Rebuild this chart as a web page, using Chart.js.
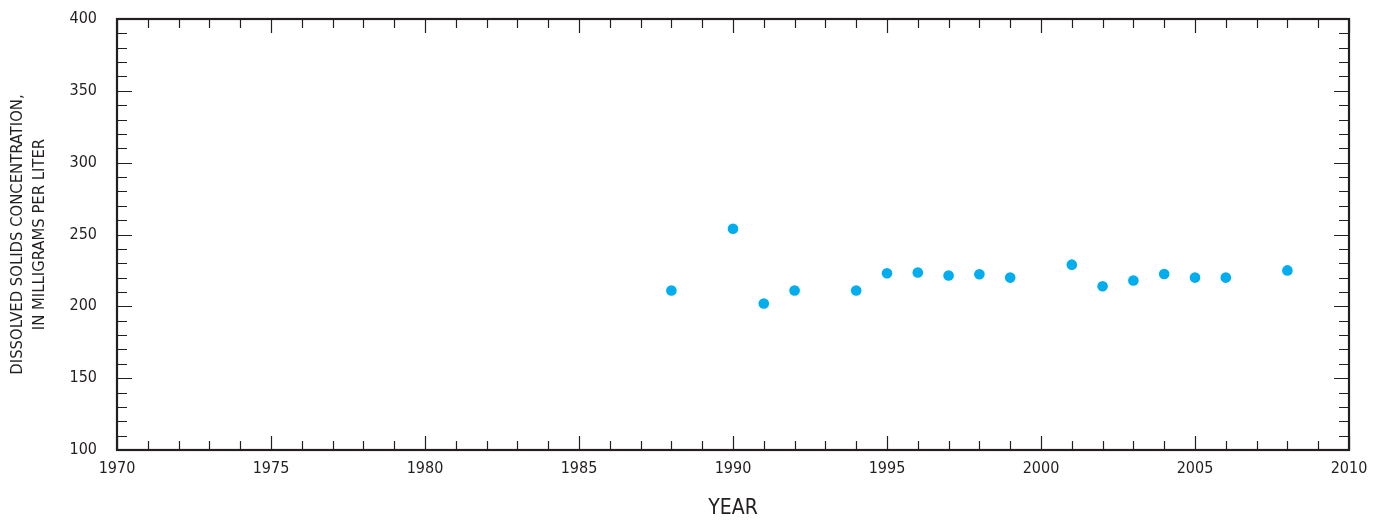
<!DOCTYPE html>
<html>
<head>
<meta charset="utf-8">
<script src="https://cdn.jsdelivr.net/npm/chart.js@4/dist/chart.umd.min.js"></script>
<style>
  html, body { margin: 0; padding: 0; background: #fff; }
  #wrap { width: 1381px; height: 521px; }
</style>
</head>
<body>
<div id="wrap"><canvas id="grafico"></canvas></div>
<script>
// dados
const anos = [1988, 1990, 1991, 1992, 1994, 1995, 1996, 1997, 1998, 1999, 2001, 2002, 2003, 2004, 2005, 2006, 2008];
const solidos = [211, 254, 202, 211, 211, 223, 223.5, 221.5, 222.3, 220, 229, 214, 218, 222.5, 220, 220, 225];
const tituloY = ['DISSOLVED SOLIDS CONCENTRATION,', 'IN MILLIGRAMS PER LITER'];
const tituloX = 'YEAR';

const corEixo = '#231f20';
const fonte = "'Liberation Sans Narrow', 'DejaVu Sans Condensed', sans-serif";

// marcas internas (maiores e menores) nos quatro lados
const marcasInternas = {
    id: 'marcasInternas',
    afterDraw(chart) {
        const { ctx, chartArea: a, scales } = chart;
        ctx.save();
        ctx.strokeStyle = corEixo;
        ctx.lineWidth = 1.2;
        scales.x.ticks.forEach(t => {
            const px = Math.round(scales.x.getPixelForValue(t.value)) + 0.5;
            const len = t.value % 5 === 0 ? 14 : 9;
            ctx.beginPath();
            ctx.moveTo(px, a.bottom); ctx.lineTo(px, a.bottom - len);
            ctx.moveTo(px, a.top); ctx.lineTo(px, a.top + len);
            ctx.stroke();
        });
        scales.y.ticks.forEach(t => {
            const py = Math.round(scales.y.getPixelForValue(t.value)) + 0.5;
            const len = t.value % 50 === 0 ? 15 : 10;
            ctx.beginPath();
            ctx.moveTo(a.left, py); ctx.lineTo(a.left + len, py);
            ctx.moveTo(a.right, py); ctx.lineTo(a.right - len, py);
            ctx.stroke();
        });
        ctx.lineWidth = 2.2;
        ctx.strokeRect(a.left, a.top, a.right - a.left, a.bottom - a.top);
        ctx.restore();
    }
};

const ctx = document.getElementById('grafico').getContext('2d');
new Chart(ctx, {
    type: 'scatter',
    data: {
        datasets: [{
            data: anos.map((a, i) => ({ x: a, y: solidos[i] })),
            backgroundColor: '#00aeef',
            borderColor: '#00aeef',
            pointRadius: 5.3,
            pointHoverRadius: 5.3,
            borderWidth: 0
        }]
    },
    options: {
        responsive: true,
        maintainAspectRatio: false,
        animation: false,
        layout: { padding: { top: 19, right: 32, left: 0, bottom: 0 } },
        plugins: {
            legend: { display: false },
            tooltip: { enabled: false }
        },
        scales: {
            x: {
                type: 'linear',
                min: 1970,
                max: 2010,
                border: { display: false },
                grid: { display: false },
                afterFit: s => { s.height = 71; s.paddingLeft = 0; s.paddingRight = 0; },
                ticks: {
                    stepSize: 1,
                    autoSkip: false,
                    maxRotation: 0,
                    padding: 1,
                    color: corEixo,
                    font: { family: fonte, size: 16 },
                    callback: v => (v % 5 === 0 ? String(v) : '')
                },
                title: {
                    display: true,
                    text: tituloX,
                    color: corEixo,
                    font: { family: fonte, size: 21 },
                    padding: { top: 16, bottom: 0 }
                }
            },
            y: {
                min: 100,
                max: 400,
                border: { display: false },
                grid: { display: false },
                afterFit: s => { s.width = 117; s.paddingTop = 0; s.paddingBottom = 0; },
                ticks: {
                    stepSize: 10,
                    autoSkip: false,
                    padding: 12,
                    color: corEixo,
                    font: { family: fonte, size: 16 },
                    callback: v => (v % 50 === 0 ? String(v) : '')
                },
                title: {
                    display: true,
                    text: tituloY,
                    color: corEixo,
                    font: { family: fonte, size: 16.5, lineHeight: 1.33 },
                    padding: { top: 7, bottom: 0 }
                }
            }
        }
    },
    plugins: [marcasInternas]
});
</script>
</body>
</html>
